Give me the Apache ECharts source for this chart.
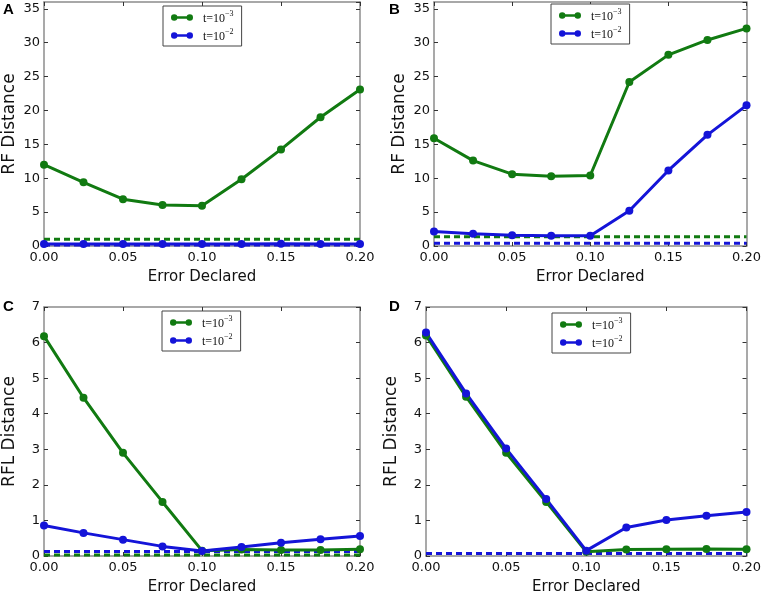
<!DOCTYPE html>
<html>
<head>
<meta charset="utf-8">
<script src="https://cdn.jsdelivr.net/npm/echarts@6/dist/echarts.min.js"></script>
<style>
    html, body { margin: 0; padding: 0; background: #fff; }
    #main { width: 764px; height: 596px; }
</style>
</head>
<body>
<div id="main"></div>
<script>
// x: error declared
var errDeclared = [0, 0.025, 0.05, 0.075, 0.1, 0.125, 0.15, 0.175, 0.2];

// A: RF distance
var rfA_t3 = [12.0, 9.4, 6.9, 6.05, 5.95, 9.85, 14.25, 19.0, 23.1];
var rfA_t2 = [0.3, 0.3, 0.3, 0.3, 0.3, 0.3, 0.35, 0.3, 0.3];
var rfA_base = [1.0, 0.15];      // dashed lines [t=10^-3, t=10^-2]

// B: RF distance
var rfB_t3 = [15.9, 12.6, 10.6, 10.3, 10.4, 24.2, 28.2, 30.4, 32.1];
var rfB_t2 = [2.15, 1.8, 1.6, 1.5, 1.5, 5.2, 11.15, 16.4, 20.75];
var rfB_base = [1.35, 0.4];

// C: RFL distance
var rflC_t3 = [6.18, 4.45, 2.9, 1.52, 0.15, 0.18, 0.17, 0.17, 0.19];
var rflC_t2 = [0.86, 0.65, 0.46, 0.27, 0.14, 0.25, 0.37, 0.47, 0.56];
var rflC_base = [0.03, 0.13];

// D: RFL distance
var rflD_t3 = [6.2, 4.48, 2.9, 1.52, 0.12, 0.18, 0.19, 0.2, 0.19];
var rflD_t2 = [6.28, 4.57, 3.02, 1.6, 0.15, 0.8, 1.01, 1.13, 1.24];
var rflD_base = [0.07, 0.07];

var panelLetters = ['A', 'B', 'C', 'D'];
var yNames = ['RF Distance', 'RF Distance', 'RFL Distance', 'RFL Distance'];
var yMax = [36, 36, 7, 7];
var yStep = [5, 5, 1, 1];
var seriesNames = ['t=10^-3', 't=10^-2'];

var GREEN = '#117a11';
var BLUE = '#1414d8';

// 面板位置
var panels = [
    { left: 44, top: 2, width: 316, height: 244, legendLeft: 163, legendTop: 6, letterLeft: 3, letterTop: 2 },
    { left: 434, top: 2, width: 315, height: 244, legendLeft: 551, legendTop: 4, letterLeft: 389, letterTop: 2 },
    { left: 44, top: 307, width: 316, height: 250, legendLeft: 162, legendTop: 311, letterLeft: 3, letterTop: 299 },
    { left: 426, top: 307, width: 323, height: 250, legendLeft: 552, legendTop: 313, letterLeft: 389, letterTop: 299 }
];

var panelData = [
    [rfA_t3, rfA_t2, rfA_base],
    [rfB_t3, rfB_t2, rfB_base],
    [rflC_t3, rflC_t2, rflC_base],
    [rflD_t3, rflD_t2, rflD_base]
];

function pairs(ys) {
    var out = [];
    for (var i = 0; i < errDeclared.length; i++) {
        out.push([errDeclared[i], ys[i]]);
    }
    return out;
}

var frameColor = '#8c8c8c';
var tickFont = { fontFamily: 'DejaVu Sans', fontSize: 13, color: '#111' };

var grid = [], xAxis = [], yAxis = [], series = [], legend = [], title = [];

for (var p = 0; p < 4; p++) {
    var pos = panels[p];
    grid.push({ left: pos.left, top: pos.top, width: pos.width, height: pos.height, show: false });

    // 下/左 主坐标轴
    xAxis.push({
        type: 'value', gridIndex: p, min: 0, max: 0.2, interval: 0.05, position: 'bottom',
        name: 'Error Declared', nameLocation: 'middle', nameGap: 24,
        nameTextStyle: { fontFamily: 'DejaVu Sans', fontSize: 15, color: '#111' },
        axisLine: { show: true, lineStyle: { color: frameColor, width: 1.5 } },
        axisTick: { show: true, inside: true, length: 4, lineStyle: { color: '#333' } },
        axisLabel: Object.assign({ margin: 5, formatter: function (v) { return v.toFixed(2); } }, tickFont),
        splitLine: { show: false }
    });
    yAxis.push({
        type: 'value', gridIndex: p, min: 0, max: yMax[p], interval: yStep[p], position: 'left',
        name: yNames[p], nameLocation: 'middle', nameGap: 26,
        nameTextStyle: { fontFamily: 'DejaVu Sans', fontSize: 17, color: '#111' },
        axisLine: { show: true, lineStyle: { color: frameColor, width: 1.5 } },
        axisTick: { show: true, inside: true, length: 4, lineStyle: { color: '#333' } },
        axisLabel: Object.assign({ margin: 4, showMaxLabel: yMax[p] % yStep[p] === 0 }, tickFont),
        splitLine: { show: false }
    });
    // 上/右 边框
    xAxis.push({
        type: 'value', gridIndex: p, min: 0, max: 0.2, interval: 0.05, position: 'top',
        axisLine: { show: true, onZero: false, lineStyle: { color: frameColor, width: 1.5 } },
        axisTick: { show: true, inside: true, length: 4, lineStyle: { color: '#333' } },
        axisLabel: { show: false }, splitLine: { show: false }
    });
    yAxis.push({
        type: 'value', gridIndex: p, min: 0, max: yMax[p], interval: yStep[p], position: 'right',
        axisLine: { show: true, onZero: false, lineStyle: { color: frameColor, width: 1.5 } },
        axisTick: { show: true, inside: true, length: 4, lineStyle: { color: '#333' } },
        axisLabel: { show: false }, splitLine: { show: false }
    });

    var d = panelData[p];
    var colors = [GREEN, BLUE];
    // 虚线基准
    for (var k = 0; k < 2; k++) {
        series.push({
            name: 'base' + k + '_' + p, type: 'line', xAxisIndex: p * 2, yAxisIndex: p * 2,
            data: [[0, d[2][k]], [0.2, d[2][k]]], symbol: 'none', silent: true,
            lineStyle: { color: colors[k], width: 3, type: [6, 4] }
        });
    }
    // 折线
    for (var k = 0; k < 2; k++) {
        series.push({
            name: seriesNames[k], type: 'line', xAxisIndex: p * 2, yAxisIndex: p * 2,
            data: pairs(d[k]), symbol: 'circle', symbolSize: 8,
            itemStyle: { color: colors[k] },
            lineStyle: { color: colors[k], width: 3 }
        });
    }

    legend.push({
        data: seriesNames, orient: 'vertical', left: pos.legendLeft, top: pos.legendTop,
        itemWidth: 22, itemHeight: 8, itemGap: 3, padding: [4, 8, 3, 8],
        borderColor: '#444', borderWidth: 1, borderRadius: 0, backgroundColor: '#fff',
        icon: 'path://M3.5,0A3.5,3.5 0 1 1 3.5,7A3.5,3.5 0 1 1 3.5,0ZM20.5,0A3.5,3.5 0 1 1 20.5,7A3.5,3.5 0 1 1 20.5,0ZM3.5,2.2L20.5,2.2L20.5,4.8L3.5,4.8Z',
        selectedMode: false,
        formatter: function (name) {
            var exp = name.split('^')[1].replace('-', '\u2212');
            return '{g|}{b|t=10}{s|' + exp + '}';
        },
        textStyle: {
            rich: {
                g: { width: 5, lineHeight: 15 },
                b: { fontFamily: 'Liberation Serif', fontSize: 12, color: '#111', lineHeight: 15, verticalAlign: 'bottom' },
                s: { fontFamily: 'Liberation Serif', fontSize: 8, color: '#111', lineHeight: 15, verticalAlign: 'top', padding: [0, 0, 5, 0] }
            }
        }
    });

    title.push({
        text: panelLetters[p], left: pos.letterLeft, top: pos.letterTop, padding: 0,
        textStyle: { fontFamily: 'Liberation Sans', fontWeight: 'bold', fontSize: 15, color: '#000' }
    });
}

var myChart = echarts.init(document.getElementById('main'));
myChart.setOption({
    animation: false,
    backgroundColor: '#fff',
    title: title,
    grid: grid,
    xAxis: xAxis,
    yAxis: yAxis,
    legend: legend,
    series: series
});
</script>
</body>
</html>
